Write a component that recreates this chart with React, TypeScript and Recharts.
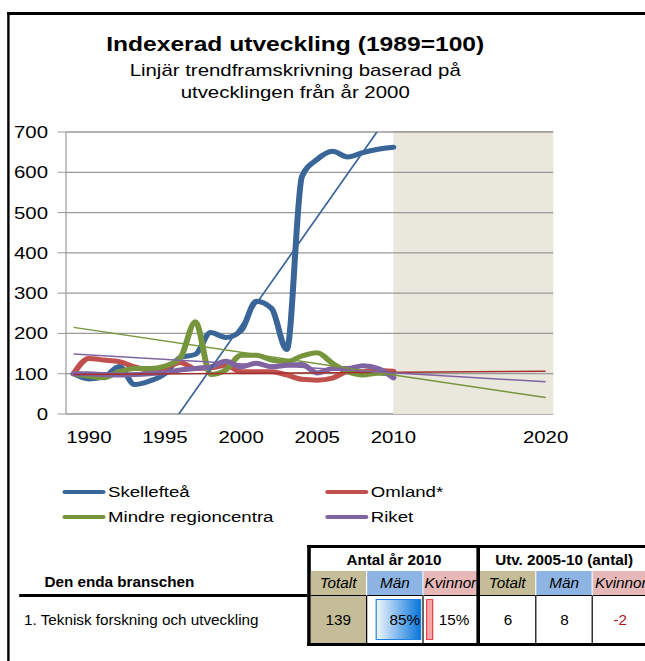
import { LineChart, Line, XAxis, YAxis, CartesianGrid, ReferenceArea, ReferenceLine } from "recharts"

// the reference picture is stretched horizontally, so the whole sheet is drawn narrow and scaled
const STRETCH = 1.2
const SHEET_WIDTH = 645 / STRETCH

const years = [
  1989, 1990, 1991, 1992, 1993, 1994, 1995, 1996, 1997, 1998, 1999, 2000, 2001, 2002, 2003, 2004,
  2005, 2006, 2007, 2008, 2009, 2010, 2011, 2012, 2013, 2014, 2015, 2016, 2017, 2018, 2019, 2020,
]
const skelleftea = [100, 87, 92, 118, 73, 82, 100, 140, 148, 202, 190, 207, 280, 262, 160, 590, 632, 652, 638, 649, 657, 662]
const omland = [100, 138, 134, 130, 117, 109, 114, 128, 113, 114, 121, 105, 105, 105, 97, 86, 84, 89, 105, 105, 108, 106]
const mindre = [100, 94, 90, 105, 113, 113, 119, 139, 229, 98, 110, 146, 146, 134, 130, 144, 152, 126, 105, 97, 101, 99]
const riket = [100, 100, 98, 97, 98, 100, 103, 109, 113, 117, 131, 117, 126, 117, 121, 123, 102, 113, 113, 120, 113, 90]

// linear trends, read at the first and last year
const trendYears = [1989, 2020]
const skellefteaTrend = [-372, 1296]
const omlandTrend = [98, 106]
const mindreTrend = [215, 41]
const riketTrend = [149, 80]

const labelYears = [1990, 1995, 2000, 2005, 2010, 2020]
const yTicks = [0, 100, 200, 300, 400, 500, 600, 700]
const forecastStart = 2010

const SERIES = [
  { key: "skelleftea", name: "Skellefteå", color: "#3A6599", trendColor: "#3A6599", values: skelleftea, trend: skellefteaTrend },
  { key: "omland", name: "Omland*", color: "#C0504D", trendColor: "#A3302E", values: omland, trend: omlandTrend },
  { key: "mindre", name: "Mindre regioncentra", color: "#77953C", trendColor: "#77953C", values: mindre, trend: mindreTrend },
  { key: "riket", name: "Riket", color: "#8064A2", trendColor: "#8064A2", values: riket, trend: riketTrend },
]

// table below the chart
const branch = "1. Teknisk forskning och utveckling"
const subHeads = ["Totalt", "Män", "Kvinnor"]
const antal2010 = { totalt: "139", man: 85, kvinnor: 15 }
const utv = ["6", "8", "-2"]

const rows = years.map((year, i) => {
  const row: Record<string, number | undefined> = { year }
  const t = trendYears.indexOf(year)
  SERIES.forEach((s) => {
    row[s.key] = s.values[i]
    row[s.key + "Trend"] = t >= 0 ? s.trend[t] : undefined
  })
  return row
})

const boundaries = [...years.map((y) => y - 0.5), years[years.length - 1] + 0.5]
const xDomain = [boundaries[0], boundaries[boundaries.length - 1]]

const GRID = "#999999"
const subBg = ["#C4BD97", "#8DB4E2", "#E6B9B8"]

function LegendItem({ name, color, left, top }: { name: string; color: string; left: number; top: number }) {
  return (
    <div style={{ position: "absolute", left, top, height: 24, display: "flex", alignItems: "center", fontSize: 15.5 }}>
      <span style={{ display: "inline-block", width: 36, height: 4, borderRadius: 2, background: color, marginRight: 2 }} />
      {name}
    </div>
  )
}

// the table uses a narrow face, which is not installed, so squeeze the regular one
function Narrow({ children, origin = "center" }: { children: React.ReactNode; origin?: string }) {
  return (
    <span style={{ display: "inline-block", whiteSpace: "nowrap", transform: "scaleX(0.82)", transformOrigin: origin }}>
      {children}
    </span>
  )
}

function Cell({ children, style }: { children?: React.ReactNode; style?: React.CSSProperties }) {
  return (
    <div
      style={{
        display: "flex",
        alignItems: "center",
        justifyContent: "center",
        boxSizing: "border-box",
        position: "relative",
        overflow: "visible",
        ...style,
      }}
    >
      {children}
    </div>
  )
}

export default function App() {
  return (
    <div
      style={{
        position: "absolute",
        left: 0,
        top: 0,
        width: SHEET_WIDTH,
        height: 661,
        overflow: "hidden",
        transform: `scaleX(${STRETCH})`,
        transformOrigin: "0 0",
        fontFamily: "'Liberation Sans', Arial, sans-serif",
        color: "#000",
        background: "#fff",
      }}
    >
      {/* frame */}
      <div style={{ position: "absolute", left: 5.8, top: 12, width: SHEET_WIDTH, height: 2.5, background: "#000" }} />
      <div style={{ position: "absolute", left: 5.8, top: 12, width: 2.2, height: 661, background: "#000" }} />

      <div style={{ position: "absolute", top: 32, left: 0, width: 492, textAlign: "center" }}>
        <div style={{ fontSize: 20.5, fontWeight: "bold", lineHeight: "24px" }}>Indexerad utveckling (1989=100)</div>
        <div style={{ fontSize: 17, lineHeight: "22px", marginTop: 4 }}>
          Linjär trendframskrivning baserad på
          <br />
          utvecklingen från år 2000
        </div>
      </div>

      <div style={{ position: "absolute", left: 0, top: 120 }}>
        <LineChart width={537} height={330} data={rows} margin={{ top: 12, right: 76, bottom: 0, left: 0 }}>
          <CartesianGrid vertical={false} stroke={GRID} strokeWidth={1.3} />
          <ReferenceArea
            xAxisId="ticks"
            x1={forecastStart}
            x2={xDomain[1]}
            y1={0}
            y2={700}
            fill="#EAE7DC"
            fillOpacity={1}
            stroke="none"
          />
          {/* the grid has to stay visible on top of the forecast band */}
          {yTicks.slice(1).map((v) => (
            <ReferenceLine
              key={v}
              xAxisId="ticks"
              segment={[
                { x: forecastStart, y: v },
                { x: xDomain[1], y: v },
              ]}
              stroke={GRID}
              strokeWidth={1.3}
            />
          ))}
          <XAxis
            xAxisId="ticks"
            dataKey="year"
            type="number"
            domain={xDomain}
            ticks={boundaries}
            interval={0}
            tick={false}
            tickSize={7}
            height={0}
            stroke={GRID}
          />
          <XAxis
            xAxisId="labels"
            dataKey="year"
            type="number"
            domain={xDomain}
            ticks={labelYears}
            interval={0}
            axisLine={false}
            tickLine={false}
            tickSize={0}
            tickMargin={17}
            height={36}
            tick={{ fill: "#000", fontSize: 17 }}
          />
          <YAxis
            domain={[0, 700]}
            ticks={yTicks}
            interval={0}
            allowDataOverflow
            width={55}
            tickSize={7}
            tickMargin={8}
            stroke={GRID}
            tick={{ fill: "#000", fontSize: 17 }}
          />
          {SERIES.map((s) => (
            <Line
              key={s.key}
              xAxisId="ticks"
              dataKey={s.key}
              name={s.name}
              type="monotone"
              stroke={s.color}
              strokeWidth={5}
              strokeLinecap="round"
              dot={false}
              activeDot={false}
              isAnimationActive={false}
            />
          ))}
          {SERIES.map((s) => (
            <Line
              key={s.key + "Trend"}
              xAxisId="ticks"
              dataKey={s.key + "Trend"}
              type="linear"
              stroke={s.trendColor}
              strokeWidth={1.5}
              connectNulls
              dot={false}
              activeDot={false}
              legendType="none"
              isAnimationActive={false}
            />
          ))}
        </LineChart>
      </div>

      <LegendItem name={SERIES[0].name} color={SERIES[0].color} left={52} top={480} />
      <LegendItem name={SERIES[1].name} color={SERIES[1].color} left={271} top={480} />
      <LegendItem name={SERIES[2].name} color={SERIES[2].color} left={52} top={505} />
      <LegendItem name={SERIES[3].name} color={SERIES[3].color} left={271} top={505} />

      {/* branch table */}
      <div style={{ position: "absolute", left: 0, top: 545, width: SHEET_WIDTH, fontSize: 15.5 }}>
        <div style={{ position: "absolute", left: 36.5, top: 24, height: 25, display: "flex", alignItems: "center", fontWeight: "bold" }}>
          <Narrow origin="left">Den enda branschen</Narrow>
        </div>
        <div style={{ position: "absolute", left: 16, top: 49, width: 242, height: 3, background: "#000" }} />
        <div style={{ position: "absolute", left: 20, top: 51, height: 47, display: "flex", alignItems: "center" }}>
          <Narrow origin="left">{branch}</Narrow>
        </div>

        <div
          style={{
            position: "absolute",
            left: 256,
            top: 0,
            display: "grid",
            gridTemplateColumns: "repeat(6, 47px)",
            gridTemplateRows: "23px 25px 47px",
            border: "3px solid #000",
            borderRight: "none",
            background: "#fff",
          }}
        >
          <Cell style={{ gridColumn: "1 / span 3", fontWeight: "bold", borderRight: "3px solid #000" }}>
            <Narrow>Antal år 2010</Narrow>
          </Cell>
          <Cell style={{ gridColumn: "4 / span 3", fontWeight: "bold" }}>
            <Narrow>Utv. 2005-10 (antal)</Narrow>
          </Cell>
          {[0, 1].map((g) =>
            subHeads.map((h, i) => (
              <Cell
                key={g + h}
                style={{
                  background: subBg[i],
                  fontStyle: "italic",
                  borderRight: g === 0 && i === 2 ? "3px solid #000" : "1px solid #fff",
                  borderBottom: "1px solid #000",
                }}
              >
                <Narrow>{h}</Narrow>
              </Cell>
            )),
          )}
          <Cell style={{ background: subBg[0], borderRight: "1px solid #000" }}>
            <Narrow>{antal2010.totalt}</Narrow>
          </Cell>
          <Cell style={{ borderRight: "1px solid #000", justifyContent: "flex-end", paddingRight: 2 }}>
            <div
              style={{
                position: "absolute",
                left: 7,
                right: 1,
                top: 3,
                bottom: 3,
                border: "1.5px solid #1D7FE0",
                background: "linear-gradient(90deg, #EEF5FC, #0C78DC)",
              }}
            />
            <span style={{ position: "relative" }}>
              <Narrow origin="right">{antal2010.man}%</Narrow>
            </span>
          </Cell>
          <Cell style={{ borderRight: "3px solid #000", justifyContent: "flex-end", paddingRight: 6 }}>
            <div
              style={{
                position: "absolute",
                left: 1.5,
                width: 4,
                top: 3,
                bottom: 3,
                border: "1.5px solid #E8474A",
                background: "#F6A6A6",
              }}
            />
            <span style={{ position: "relative" }}>
              <Narrow origin="right">{antal2010.kvinnor}%</Narrow>
            </span>
          </Cell>
          {utv.map((v, i) => (
            <Cell key={i} style={{ borderRight: "1px solid #000", color: v.startsWith("-") ? "#B0161B" : "#000" }}>
              <Narrow>{v}</Narrow>
            </Cell>
          ))}
        </div>
      </div>
    </div>
  )
}
